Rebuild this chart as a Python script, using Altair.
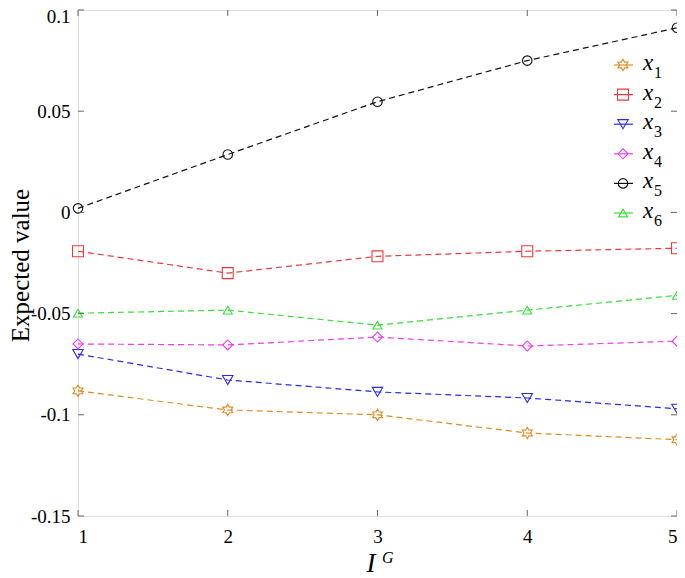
import altair as alt
import pandas as pd

# ---- data ----
x_vals = [1, 2, 3, 4, 5]
series_names = ["x1", "x2", "x3", "x4", "x5", "x6"]
sub_digits = ["1", "2", "3", "4", "5", "6"]
x1 = [-0.0882, -0.0976, -0.1000, -0.1090, -0.1123]
x2 = [-0.0192, -0.0300, -0.0217, -0.0192, -0.0177]
x3 = [-0.0700, -0.0828, -0.0887, -0.0917, -0.0970]
x4 = [-0.0650, -0.0655, -0.0616, -0.0660, -0.0636]
x5 = [0.0020, 0.0286, 0.0547, 0.0750, 0.0912]
x6 = [-0.0498, -0.0483, -0.0557, -0.0483, -0.0410]
y_ticks = [-0.15, -0.1, -0.05, 0, 0.05, 0.1]
x_ticks = [1, 2, 3, 4, 5]

colors = ["#E08B24", "#F03838", "#2A2AF0", "#F03CF0", "#111111", "#33E033"]
hexagram = ("M0,-1L0.289,-0.5L0.866,-0.5L0.577,0L0.866,0.5L0.289,0.5L0,1"
            "L-0.289,0.5L-0.866,0.5L-0.577,0L-0.866,-0.5L-0.289,-0.5Z")
shapes = [hexagram, "square", "triangle-down", "diamond", "circle", "triangle-up"]
sizes = [130, 80, 150, 150, 140, 150]

W, H = 599, 506
XMIN, XMAX = 1, 5
YMIN, YMAX = -0.15, 0.1
FONT = "Liberation Serif, Times New Roman, Times, DejaVu Serif, serif"
AX = "#666666"

rows = []
for name, vals in zip(series_names, [x1, x2, x3, x4, x5, x6]):
    for xv, yv in zip(x_vals, vals):
        rows.append({"series": name, "x": xv, "y": yv})
df = pd.DataFrame(rows)

xs = alt.Scale(domain=[XMIN, XMAX], nice=False, zero=False)
ys = alt.Scale(domain=[YMIN, YMAX], nice=False, zero=False)
cs = alt.Scale(domain=series_names, range=colors)
ss = alt.Scale(domain=series_names, range=shapes)
szs = alt.Scale(domain=series_names, range=sizes)

base = alt.Chart(df)
X = alt.X("x:Q", scale=xs,
          axis=alt.Axis(values=x_ticks, title=None, grid=False, domain=False,
                        tickSize=0, labelFont=FONT, labelFontSize=19,
                        labelColor="black", labelPadding=11, format="d"))
Y = alt.Y("y:Q", scale=ys,
          axis=alt.Axis(values=y_ticks, title="Expected value", grid=False,
                        domain=False, tickSize=0, labelFont=FONT,
                        labelFontSize=19, labelColor="black", labelPadding=8,
                        labelExpr="toString(datum.value)",
                        labelOffset={"condition": {"test": "datum.value == 0.1", "value": 6}, "value": 0},
                        titleFont=FONT, titleFontSize=25,
                        titleFontWeight="normal", titleColor="black",
                        titleX=-58, titleY=255, titleAngle=270,
                        titleAlign="center", titleBaseline="middle"))

lines = base.mark_line(strokeDash=[6, 4], strokeWidth=1.2).encode(
    x=X, y=Y, color=alt.Color("series:N", scale=cs, legend=None),
    detail="series:N")
pts = base.mark_point(filled=False, strokeWidth=1.1, opacity=1).encode(
    x="x:Q", y="y:Q",
    color=alt.Color("series:N", scale=cs, legend=None),
    shape=alt.Shape("series:N", scale=ss, legend=None),
    size=alt.Size("series:N", scale=szs, legend=None))

# inward ticks on all four sides
xt = pd.DataFrame({"x": x_ticks})
yt = pd.DataFrame({"y": y_ticks})
tb = alt.Chart(xt).mark_rule(color=AX, strokeWidth=1).encode(
    x="x:Q", y=alt.value(H), y2=alt.value(H - 6))
tt = alt.Chart(xt).mark_rule(color=AX, strokeWidth=1).encode(
    x="x:Q", y=alt.value(0), y2=alt.value(6))
tl = alt.Chart(yt).mark_rule(color=AX, strokeWidth=1).encode(
    y="y:Q", x=alt.value(0), x2=alt.value(6))
tr = alt.Chart(yt).mark_rule(color=AX, strokeWidth=1).encode(
    y="y:Q", x=alt.value(W - 6), x2=alt.value(W))

# custom legend (positions converted to data units)
def dx(px):
    return XMIN + px / W * (XMAX - XMIN)

def dy(py):
    return YMAX - py / H * (YMAX - YMIN)

leg = []
for i, (name, d) in enumerate(zip(series_names, sub_digits)):
    ry = 55 + i * 29.6
    leg.append({"series": name, "sub": d,
                "lx1": dx(536), "lx2": dx(555), "mx": dx(545), "ly": dy(ry),
                "tx": dx(565), "ty": dy(ry - 2), "sx": dx(576), "sy": dy(ry + 8)})
ldf = pd.DataFrame(leg)
lb = alt.Chart(ldf)
l_line = lb.mark_rule(strokeWidth=1.2).encode(
    x="lx1:Q", x2="lx2:Q", y="ly:Q",
    color=alt.Color("series:N", scale=cs, legend=None))
l_pt = lb.mark_point(filled=False, strokeWidth=1.1, opacity=1).encode(
    x="mx:Q", y="ly:Q",
    color=alt.Color("series:N", scale=cs, legend=None),
    shape=alt.Shape("series:N", scale=ss, legend=None),
    size=alt.Size("series:N", scale=szs, legend=None))
l_x = lb.mark_text(text="x", font=FONT, fontSize=23, fontStyle="italic",
                   align="left", baseline="middle", color="black").encode(
    x="tx:Q", y="ty:Q")
l_s = lb.mark_text(font=FONT, fontSize=16, align="left", baseline="middle",
                   color="black").encode(x="sx:Q", y="sy:Q", text="sub:N")

# x-axis title I^G
one = pd.DataFrame({"a": [0]})
t_i = alt.Chart(one).mark_text(text="I", font=FONT, fontSize=27,
                               fontStyle="italic", align="center",
                               baseline="alphabetic", color="black").encode(
    x=alt.value(293), y=alt.value(562))
t_g = alt.Chart(one).mark_text(text="G", font=FONT, fontSize=16,
                               fontStyle="italic", align="left",
                               baseline="alphabetic", color="black").encode(
    x=alt.value(304), y=alt.value(553))

chart = alt.layer(lines, pts, tb, tt, tl, tr, l_line, l_pt, l_x, l_s, t_i, t_g).properties(
    width=W, height=H,
    padding={"left": 70, "top": 2, "right": 0, "bottom": 62},
    autosize=alt.AutoSizeParams(type="none"),
).configure_view(stroke=AX, strokeWidth=1.5).configure(background="white")

chart.save("out.html", embed_options={"renderer": "svg", "actions": False})
